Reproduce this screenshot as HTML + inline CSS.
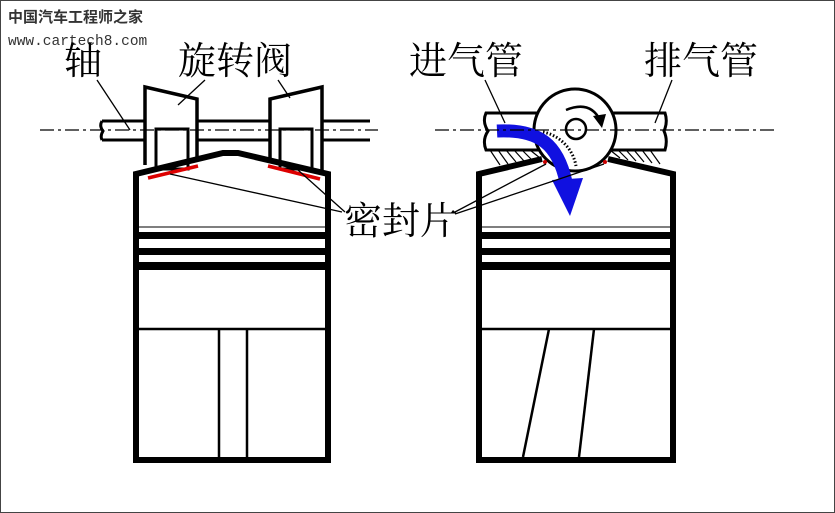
<!DOCTYPE html>
<html><head><meta charset="utf-8"><style>
html,body{margin:0;padding:0;background:#fff;}
svg{display:block;}
.cn{font-family:"Liberation Serif","Noto Serif CJK SC",serif;}
</style></head><body>
<svg width="835" height="513" viewBox="0 0 835 513" xmlns="http://www.w3.org/2000/svg">
<rect x="0.5" y="0.5" width="834" height="512" fill="#fff" stroke="#444" stroke-width="1"/>
<text x="8" y="22" style="font-family:'Noto Sans CJK SC',sans-serif;font-size:15px;font-weight:bold" fill="#333">中国汽车工程师之家</text>
<text x="8" y="45" style="font-family:'Liberation Mono',monospace;font-size:14.5px" fill="#333">www.cartech8.com</text>

<g class="cn" font-size="38" fill="#000">
<text x="64" y="74">轴</text>
<text x="178" y="74">旋转阀</text>
<text x="409" y="74">进气管</text>
<text x="644" y="74">排气管</text>
<text x="344" y="234">密封片</text>
</g>

<!-- LEFT ENGINE -->
<path d="M102 121 H370 M102 140 H370 M102 121 Q99 126 103 131 Q100 136 102 140" fill="none" stroke="#000" stroke-width="3"/>
<path d="M145 165 V87 L197 99 V160" fill="#fff" stroke="#000" stroke-width="3.5"/>
<rect x="156" y="129" width="32" height="40" fill="#fff" stroke="#000" stroke-width="3"/>
<path d="M270 160 V99 L322 87 V170" fill="#fff" stroke="#000" stroke-width="3.5"/>
<rect x="280" y="129" width="32" height="40" fill="#fff" stroke="#000" stroke-width="3"/>
<path d="M136 460 V174 L223 153 H238 L328 174 V460 Z" fill="none" stroke="#000" stroke-width="6"/>
<path d="M148 178 L198 166" stroke="#d00" stroke-width="3.5"/>
<path d="M268 166 L320 179" stroke="#d00" stroke-width="3.5"/>
<line x1="139" y1="227" x2="325" y2="227" stroke="#555" stroke-width="1.5"/>
<rect x="139" y="232" width="186" height="7" fill="#000"/>
<rect x="139" y="248" width="186" height="7" fill="#000"/>
<rect x="139" y="262" width="186" height="8" fill="#000"/>
<line x1="139" y1="329" x2="325" y2="329" stroke="#000" stroke-width="2.5"/>
<line x1="219" y1="329" x2="219" y2="457" stroke="#000" stroke-width="2.5"/>
<line x1="247" y1="329" x2="247" y2="457" stroke="#000" stroke-width="2.5"/>
<g stroke="#000" stroke-width="1.3">
<line x1="97" y1="80" x2="130" y2="130"/>
<line x1="205" y1="80" x2="178" y2="105"/>
<line x1="278" y1="80" x2="290" y2="98"/>
<line x1="170" y1="174" x2="342" y2="212"/>
<line x1="298" y1="170" x2="345" y2="212"/>
</g>

<!-- RIGHT ENGINE -->
<g stroke="#000" stroke-width="1.2">
<path d="M490 150 L500 165 M498 150 L508 164 M506 150 L516 162 M514 150 L524 161 M522 150 L532 160 M530 150 L540 158"/>
<path d="M610 150 L620 158 M618 150 L628 160 M626 150 L636 161 M634 150 L644 162 M642 150 L652 163 M650 150 L660 164"/>
</g>
<path d="M540 113 H486 Q482 122 488 131 Q482 140 486 150 H540" fill="#fff" stroke="#000" stroke-width="3"/>
<path d="M605 113 H665 Q668 122 664 131 Q668 140 665 150 H605" fill="#fff" stroke="#000" stroke-width="3"/>
<circle cx="575" cy="130" r="41" fill="#fff" stroke="#000" stroke-width="3"/>
<circle cx="576" cy="129" r="10" fill="#fff" stroke="#000" stroke-width="2.5"/>
<path d="M566 110 Q590 100 600 120" fill="none" stroke="#000" stroke-width="2.5"/>
<path d="M593 116 L606 114 L602 128 Z" fill="#000"/>
<path d="M543 132 A 42 42 0 0 1 576 166" fill="none" stroke="#000" stroke-width="3" stroke-dasharray="1.5 2"/>
<path d="M542 159 L479 174 V460 H673 V174 L608 159" fill="none" stroke="#000" stroke-width="6" stroke-linejoin="miter"/>
<circle cx="545" cy="162" r="2" fill="#c00"/>
<circle cx="605" cy="162" r="2" fill="#c00"/>
<line x1="482" y1="227" x2="670" y2="227" stroke="#555" stroke-width="1.5"/>
<rect x="482" y="232" width="188" height="7" fill="#000"/>
<rect x="482" y="248" width="188" height="7" fill="#000"/>
<rect x="482" y="262" width="188" height="8" fill="#000"/>
<line x1="482" y1="329" x2="670" y2="329" stroke="#000" stroke-width="2.5"/>
<line x1="549" y1="329" x2="523" y2="457" stroke="#000" stroke-width="2.5"/>
<line x1="594" y1="329" x2="579" y2="457" stroke="#000" stroke-width="2.5"/>
<path d="M497 131 C540 129 558 145 566 182" fill="none" stroke="#1010e0" stroke-width="13"/>
<path d="M552 180 L583 178 L570 216 Z" fill="#1010e0"/>
<g stroke="#000" stroke-width="1.3">
<line x1="485" y1="80" x2="505" y2="123"/>
<line x1="672" y1="80" x2="655" y2="123"/>
<line x1="455" y1="212" x2="546" y2="164"/>
<line x1="455" y1="214" x2="604" y2="164"/>
</g>
<g stroke="#000" stroke-width="1.2" stroke-dasharray="14 4 3 4">
<line x1="40" y1="130" x2="378" y2="130"/>
<line x1="435" y1="130" x2="775" y2="130"/>
</g>
</svg>
</body></html>
